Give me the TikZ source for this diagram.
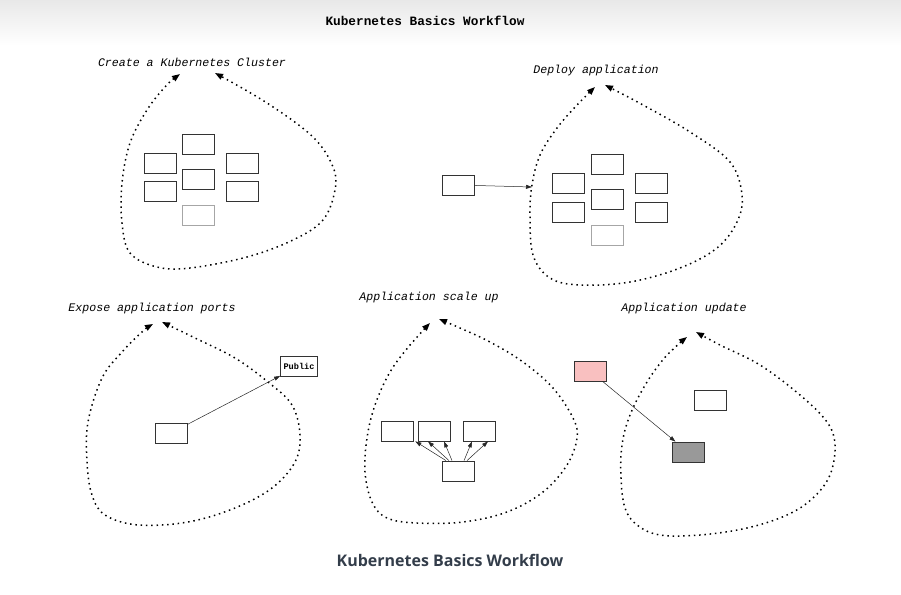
\documentclass[tikz,border=0pt]{standalone}
\usepackage{fontspec}
\setmonofont{Liberation Mono}
\setsansfont{Open Sans}
\usetikzlibrary{arrows.meta}

\definecolor{rosa}{RGB}{249,192,192}
\definecolor{dunkelgrau}{RGB}{153,153,153}
\definecolor{schiefer}{RGB}{51,61,74}

\tikzset{
	kasten/.style={draw=black!80, line width=0.8pt, minimum width=32pt, minimum height=20pt, inner sep=0pt},
	blass/.style={draw=black!35},
	schleife/.style={line width=1.5pt, dash pattern=on 1.5pt off 3.8pt, {Triangle[length=8pt,width=6pt]}-{Triangle[length=8pt,width=6pt]}},
	pfeil/.style={-{Triangle[length=6pt,width=4pt]}, line width=0.5pt, black!85},
	beschriftung/.style={font=\ttfamily\itshape\fontsize{11.6}{13}\selectfont}
}

\begin{document}
\begin{tikzpicture}[x=1pt, y=-1pt]
		\useasboundingbox (0,0) rectangle (901,594);
		\shade[top color=black!9, bottom color=white] (0,0) rectangle (901,45);

		% zeichne Titel
		\node[font=\ttfamily\bfseries\fontsize{12.75}{14}\selectfont] (titel) at (425,21) {Kubernetes Basics Workflow};
		\node[font=\sffamily\bfseries\fontsize{16}{18}\selectfont, text=schiefer] (unterschrift) at (450,560) {Kubernetes Basics Workflow};

		% zeichne Beschriftungen
		\node[beschriftung] (l1) at (192,62) {Create a Kubernetes Cluster};
		\node[beschriftung] (l2) at (596,71) {Deploy application};
		\node[beschriftung] (l3) at (152,308) {Expose application ports};
		\node[beschriftung] (l4) at (429,297) {Application scale up};
		\node[beschriftung] (l5) at (684,308) {Application update};

		% zeichne Schleifen
		\draw[schleife] plot[smooth, tension=0.6] coordinates {(180,74) (165,87) (147,110) (130,143) (122,183) (122,223) (130,253) (157,267) (190,268) (247,257) (293,240) (323,220) (335,190) (333,167) (313,137) (267,103) (215,73)};
		\draw[schleife] plot[smooth, tension=0.6] coordinates {(595,87) (577,105) (557,128) (540,155) (532,185) (530,215) (533,255) (550,278) (580,285) (630,282) (680,268) (717,248) (737,222) (742,195) (730,162) (690,132) (643,105) (605,85)};
		\draw[schleife] plot[smooth, tension=0.6] coordinates {(153,324) (142,332) (122,352) (102,378) (88,422) (87,462) (92,495) (105,515) (138,525) (188,522) (235,508) (272,488) (295,462) (300,435) (292,405) (268,382) (235,358) (195,338) (162,322)};
		\draw[schleife] plot[smooth, tension=0.6] coordinates {(430,323) (410,345) (390,372) (375,405) (367,438) (365,472) (372,502) (387,518) (417,523) (463,522) (507,512) (543,492) (567,465) (577,438) (573,418) (553,388) (523,362) (490,342) (460,328) (439,319)};
		\draw[schleife] plot[smooth, tension=0.6] coordinates {(687,337) (667,355) (647,382) (630,415) (622,445) (621,478) (625,508) (637,525) (660,535) (700,535) (747,528) (787,515) (813,498) (830,475) (835,445) (827,422) (800,395) (760,365) (720,345) (696,332)};

		% Cluster erstellen
		\node[kasten] (c1) at (198,144) {};
		\node[kasten] (c2) at (160,163) {};
		\node[kasten] (c3) at (242,163) {};
		\node[kasten] (c4) at (198,179) {};
		\node[kasten] (c5) at (160,191) {};
		\node[kasten] (c6) at (242,191) {};
		\node[kasten, blass] (c7) at (198,215) {};

		% Anwendung bereitstellen
		\node[kasten] (d1) at (607,164) {};
		\node[kasten] (d2) at (568,183) {};
		\node[kasten] (d3) at (651,183) {};
		\node[kasten] (d4) at (607,199) {};
		\node[kasten] (d5) at (568,212) {};
		\node[kasten] (d6) at (651,212) {};
		\node[kasten, blass] (d7) at (607,235) {};
		\node[kasten] (dq) at (458,185) {};
		\coordinate (dz) at (532,187);
		\draw[pfeil] (dq) -- (dz);

		% Ports freigeben
		\node[kasten] (ex) at (171,433) {};
		\node[kasten, minimum width=37pt, font=\ttfamily\bfseries\fontsize{8.6}{10}\selectfont] (pub) at (299,366) {Public};
		\draw[pfeil] (ex) -- (pub);

		% Skalieren
		\node[kasten] (s1) at (397,431) {};
		\node[kasten] (s2) at (434,431) {};
		\node[kasten] (s3) at (479,431) {};
		\node[kasten] (sb) at (458,471) {};
		\draw[pfeil] ([xshift=-12pt]sb.north) -- ([xshift=2pt]s1.south east);
		\draw[pfeil] ([xshift=-9pt]sb.north) -- ([xshift=-6pt]s2.south);
		\draw[pfeil] ([xshift=-6pt]sb.north) -- ([xshift=10pt]s2.south);
		\draw[pfeil] ([xshift=6pt]sb.north) -- ([xshift=-7pt]s3.south);
		\draw[pfeil] ([xshift=9pt]sb.north) -- ([xshift=9pt]s3.south);

		% Aktualisieren
		\node[kasten, fill=rosa] (alt) at (590,371) {};
		\node[kasten, fill=dunkelgrau] (neu) at (688,452) {};
		\node[kasten] (frei) at (710,400) {};
		\draw[pfeil] (alt) -- (neu);
	\end{tikzpicture}
\end{document}
